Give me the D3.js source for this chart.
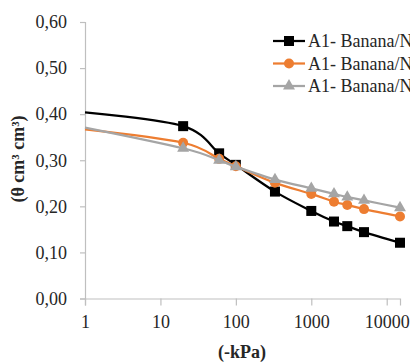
<!DOCTYPE html>
<html>
<head>
<meta charset="utf-8">
<script src="https://cdn.jsdelivr.net/npm/d3@7"></script>
<style>
  html, body { margin: 0; padding: 0; background: #fff; overflow: hidden; }
  svg { display: block; }
</style>
</head>
<body>
<svg id="chart" width="410" height="363"></svg>
<script>
// ---- data ----
const suction = [1, 20, 60, 100, 330, 1000, 2000, 3000, 5000, 15000];
const seriesNames = ["A1- Banana/N", "A1- Banana/N", "A1- Banana/N"];
const thetaBlack  = [0.404, 0.374, 0.315, 0.290, 0.232, 0.190, 0.167, 0.157, 0.144, 0.121];
const thetaOrange = [0.367, 0.338, 0.303, 0.287, 0.251, 0.227, 0.210, 0.203, 0.194, 0.178];
const thetaGray   = [0.371, 0.326, 0.300, 0.286, 0.258, 0.239, 0.227, 0.220, 0.213, 0.197];
const xTicks = [1, 10, 100, 1000, 10000];
const yTicks = [0, 0.1, 0.2, 0.3, 0.4, 0.5, 0.6];
const xTitle = "(-kPa)";
const yTitle = "(θ cm³ cm³)";
const firstMarkerIndex = 1; // saturated value (1 kPa) drawn without marker

const colors = ["#000000", "#ED7D31", "#A5A5A5"];
const shapes = ["square", "circle", "triangle"];
const allSeries = [thetaBlack, thetaOrange, thetaGray];

const FONT = "'Liberation Serif', 'DejaVu Serif', serif";

// ---- layout ----
const svg = d3.select("#chart");
svg.append("rect").attr("width", 410).attr("height", 363).attr("fill", "#fff");

const x = d3.scaleLog().domain([1, 15000]).range([85, 400]);
const y = d3.scaleLinear().domain([0, 0.6]).range([298.5, 22]);

const fmt = d => d.toFixed(2).replace(".", ",");

// y axis
const yAxis = svg.append("g").attr("transform", "translate(85,0)")
  .call(d3.axisLeft(y).tickValues(yTicks).tickFormat(fmt).tickSizeOuter(0).tickSize(5).tickPadding(13));
// x axis
const xAxis = svg.append("g").attr("transform", "translate(0,298.5)")
  .call(d3.axisBottom(x).tickValues(xTicks).tickFormat(d3.format("d")).tickSizeOuter(0).tickSize(7).tickPadding(10));

[yAxis, xAxis].forEach(g => {
  g.attr("font-family", null).attr("font-size", null);
  g.select(".domain").attr("stroke", "#BFBFBF").attr("stroke-width", 1.2);
  g.selectAll(".tick line").attr("stroke", "#BFBFBF").attr("stroke-width", 1.2);
  g.selectAll(".tick text").style("font-family", FONT)
    .style("font-size", "18px").attr("fill", "#262626");
});

// axis titles
svg.append("text").attr("x", 242).attr("y", 358).attr("text-anchor", "middle")
  .style("font-family", FONT).style("font-size", "18px").style("font-weight", "bold").attr("fill", "#262626").text(xTitle);
svg.append("text").attr("transform", "translate(24,159) rotate(-90)")
  .attr("text-anchor", "middle").style("font-family", FONT).style("font-size", "18px").style("font-weight", "bold")
  .attr("fill", "#262626").text(yTitle);

// series
const line = d3.line().x(d => x(d[0])).y(d => y(d[1])).curve(d3.curveCardinal.tension(0));
function drawMarker(g, shape, cx, cy, color) {
  if (shape === "square") {
    g.append("rect").attr("x", cx - 5).attr("y", cy - 5).attr("width", 10).attr("height", 10).attr("fill", color);
  } else if (shape === "circle") {
    g.append("circle").attr("cx", cx).attr("cy", cy).attr("r", 5).attr("fill", color);
  } else {
    g.append("path").attr("d", d3.symbol(d3.symbolTriangle, 62)()).attr("transform", `translate(${cx},${cy})`).attr("fill", color);
  }
}

allSeries.forEach((vals, i) => {
  const pts = suction.map((s, k) => [s, vals[k]]);
  const g = svg.append("g");
  g.append("path").attr("d", line(pts)).attr("fill", "none").attr("stroke", colors[i]).attr("stroke-width", 2.25);
  pts.slice(firstMarkerIndex).forEach(p => drawMarker(g, shapes[i], x(p[0]), y(p[1]), colors[i]));
});

// legend
const legY = [41, 63.5, 86];
seriesNames.forEach((name, i) => {
  const g = svg.append("g");
  g.append("line").attr("x1", 273).attr("x2", 305).attr("y1", legY[i]).attr("y2", legY[i])
    .attr("stroke", colors[i]).attr("stroke-width", 2.25);
  drawMarker(g, shapes[i], 289, legY[i], colors[i]);
  g.append("text").attr("x", 308).attr("y", legY[i] + 6).style("font-family", FONT).style("font-size", "18px")
    .attr("fill", "#262626").text(name);
});
</script>
</body>
</html>
